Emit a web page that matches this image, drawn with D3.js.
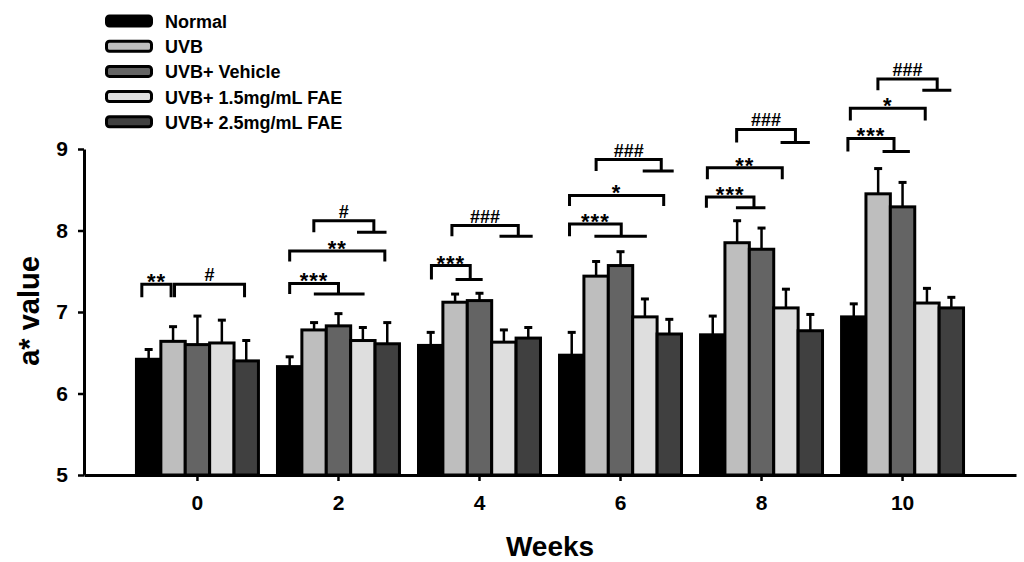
<!DOCTYPE html>
<html>
<head>
<meta charset="utf-8">
<script src="https://cdn.jsdelivr.net/npm/d3@7"></script>
<style>
  body { margin: 0; background: #fff; }
  text { font-family: "Liberation Sans", Arial, sans-serif; }
</style>
</head>
<body>
<div id="chart"></div>
<script>
// values
const weeks = ["0", "2", "4", "6", "8", "10"];
const seriesNames = ["Normal", "UVB", "UVB+ Vehicle", "UVB+ 1.5mg/mL FAE", "UVB+ 2.5mg/mL FAE"];
const seriesColors = ["#000000", "#bebebe", "#646464", "#dedede", "#404040"];

const normalMean  = [6.42, 6.33, 6.59, 6.47, 6.72, 6.94];
const normalErr   = [0.12, 0.12, 0.16, 0.28, 0.23, 0.16];
const uvbMean     = [6.64, 6.78, 7.12, 7.44, 7.85, 8.45];
const uvbErr      = [0.18, 0.09, 0.10, 0.18, 0.27, 0.31];
const vehicleMean = [6.60, 6.83, 7.14, 7.57, 7.77, 8.29];
const vehicleErr  = [0.35, 0.15, 0.09, 0.17, 0.26, 0.30];
const fae15Mean   = [6.62, 6.65, 6.63, 6.94, 7.05, 7.11];
const fae15Err    = [0.28, 0.16, 0.15, 0.22, 0.23, 0.18];
const fae25Mean   = [6.40, 6.61, 6.68, 6.73, 6.77, 7.05];
const fae25Err    = [0.25, 0.26, 0.13, 0.18, 0.20, 0.13];

const yTicks = [5, 6, 7, 8, 9];

// significance brackets: week, from bar, to bar, top, bottom, label, sub-line from, sub-line to
const brackets = [
  ["0", -0.28, 0.92, 7.34, 7.18, "**"],
  ["0", 1.06, 3.93, 7.34, 7.18, "#"],
  ["2", 0.0, 2.0, 7.35, 7.22, "***", 0.99, 3.07],
  ["2", 0.0, 3.9, 7.75, 7.62, "**"],
  ["2", 0.99, 3.45, 8.12, 7.98, "#", 2.76, 3.97],
  ["4", 0.03, 1.62, 7.57, 7.40, "***", 1.02, 2.13],
  ["4", 0.87, 3.59, 8.06, 7.93, "###", 2.82, 4.18],
  ["6", -0.09, 2.03, 8.08, 7.93, "***", 0.93, 3.08],
  ["6", -0.09, 3.77, 8.43, 8.30, "*"],
  ["6", 1.0, 3.67, 8.87, 8.73, "###", 2.91, 4.18],
  ["8", -0.26, 1.69, 8.41, 8.28, "***", 0.95, 2.16],
  ["8", -0.22, 2.85, 8.77, 8.63, "**"],
  ["8", 0.98, 3.39, 9.24, 9.08, "###", 2.78, 3.98],
  ["10", -0.24, 1.65, 9.13, 8.97, "***", 1.18, 2.30],
  ["10", -0.14, 2.93, 9.50, 9.35, "*"],
  ["10", 0.99, 3.42, 9.86, 9.72, "###", 2.81, 4.0]
];

function main() {
  let width = 1024;
  let height = 562;

  let means = [normalMean, uvbMean, vehicleMean, fae15Mean, fae25Mean];
  let errs = [normalErr, uvbErr, vehicleErr, fae15Err, fae25Err];

  let svg = d3.select("#chart").append("svg")
      .attr("width", width)
      .attr("height", height);

  svg.append("rect").attr("width", width).attr("height", height).attr("fill", "#fff");

  let x = d3.scaleBand().domain(weeks).range([84, 1016])
      .paddingInner(0.135).paddingOuter(0.372);
  let xSub = d3.scaleBand().domain(d3.range(seriesNames.length)).range([0, x.bandwidth()]);
  let y = d3.scaleLinear().domain([5, 9]).range([475, 149]);

  // bar index (can be fractional) -> pixel centre
  function barX(week, idx) {
    return x(week) + (idx + 0.5) * xSub.bandwidth();
  }

  let rows = [];
  weeks.forEach(function(w, wi) {
    seriesNames.forEach(function(s, si) {
      rows.push({week: w, s: si, v: means[si][wi], e: errs[si][wi]});
    });
  });

  // error bars first so bar outline covers the base
  let eb = svg.append("g").attr("stroke", "#000");
  eb.selectAll("line.v")
    .data(rows)
    .enter()
    .append("line")
    .attr("x1", function(d){ return barX(d.week, d.s); })
    .attr("x2", function(d){ return barX(d.week, d.s); })
    .attr("y1", function(d){ return y(d.v); })
    .attr("y2", function(d){ return y(d.v + d.e); })
    .attr("stroke-width", 2.5);
  eb.selectAll("line.cap")
    .data(rows)
    .enter()
    .append("line")
    .attr("x1", function(d){ return barX(d.week, d.s) - 4; })
    .attr("x2", function(d){ return barX(d.week, d.s) + 4; })
    .attr("y1", function(d){ return y(d.v + d.e); })
    .attr("y2", function(d){ return y(d.v + d.e); })
    .attr("stroke-width", 3);

  svg.append("g").selectAll("rect")
    .data(rows)
    .enter()
    .append("rect")
    .attr("x", function(d){ return x(d.week) + xSub(d.s); })
    .attr("width", xSub.bandwidth())
    .attr("y", function(d){ return y(d.v); })
    .attr("height", function(d){ return y(5) - y(d.v); })
    .attr("fill", function(d){ return seriesColors[d.s]; })
    .attr("stroke", "#000")
    .attr("stroke-width", 3);

  // axes
  let yAxis = svg.append("g")
      .attr("transform", "translate(84,0)")
      .call(d3.axisLeft(y).tickValues(yTicks).tickFormat(d3.format("d")).tickSize(6).tickSizeOuter(0).tickPadding(10));
  let xAxis = svg.append("g")
      .attr("transform", "translate(0,475)")
      .call(d3.axisBottom(x).tickSize(6).tickSizeOuter(0).tickPadding(14));
  [yAxis, xAxis].forEach(function(a){
    a.select(".domain").attr("stroke-width", 3);
    a.selectAll(".tick line").attr("stroke-width", 2.5);
    a.selectAll(".tick text")
      .attr("font-family", "Liberation Sans, Arial, sans-serif")
      .attr("font-size", 21)
      .attr("font-weight", "bold")
      .attr("fill", "#000");
  });

  svg.append("text")
    .attr("x", 550).attr("y", 556)
    .attr("text-anchor", "middle")
    .attr("font-size", 28).attr("font-weight", "bold")
    .text("Weeks");
  svg.append("text")
    .attr("transform", "translate(39,311) rotate(-90)")
    .attr("text-anchor", "middle")
    .attr("font-size", 29).attr("font-weight", "bold")
    .text("a* value");

  // brackets
  let bg = svg.append("g").attr("fill", "none").attr("stroke", "#000").attr("stroke-width", 3);
  brackets.forEach(function(b){
    let xa = barX(b[0], b[1]), xb = barX(b[0], b[2]);
    let yt = y(b[3]), yb = y(b[4]);
    let p = d3.path();
    p.moveTo(xa, yb); p.lineTo(xa, yt); p.lineTo(xb, yt); p.lineTo(xb, yb);
    if (b.length > 6) {
      p.moveTo(barX(b[0], b[6]), yb); p.lineTo(barX(b[0], b[7]), yb);
    }
    bg.append("path").attr("d", p.toString());
    let star = b[5].indexOf("*") >= 0;
    svg.append("text")
      .attr("x", (xa + xb) / 2)
      .attr("y", star ? yt + 5 : yt - 3)
      .attr("text-anchor", "middle")
      .attr("font-family", star ? "Liberation Sans, Arial, sans-serif" : "Liberation Serif, serif")
      .attr("font-size", star ? 22 : 18)
      .attr("font-weight", "bold")
      .attr("letter-spacing", star ? 1 : 0)
      .text(b[5]);
  });

  // legend
  let legend = svg.append("g").attr("transform", "translate(105,21)");
  let item = legend.selectAll("g")
    .data(seriesNames)
    .enter()
    .append("g")
    .attr("transform", function(d, i){ return "translate(0," + (i * 25.2) + ")"; });
  item.append("rect")
    .attr("x", 1.5).attr("y", -5)
    .attr("width", 45).attr("height", 10)
    .attr("rx", 3)
    .attr("fill", function(d, i){ return seriesColors[i]; })
    .attr("stroke", "#000").attr("stroke-width", 3);
  item.append("text")
    .attr("x", 60).attr("y", 7)
    .attr("font-size", 18).attr("font-weight", "bold")
    .text(function(d){ return d; });
}

main();
</script>
</body>
</html>
